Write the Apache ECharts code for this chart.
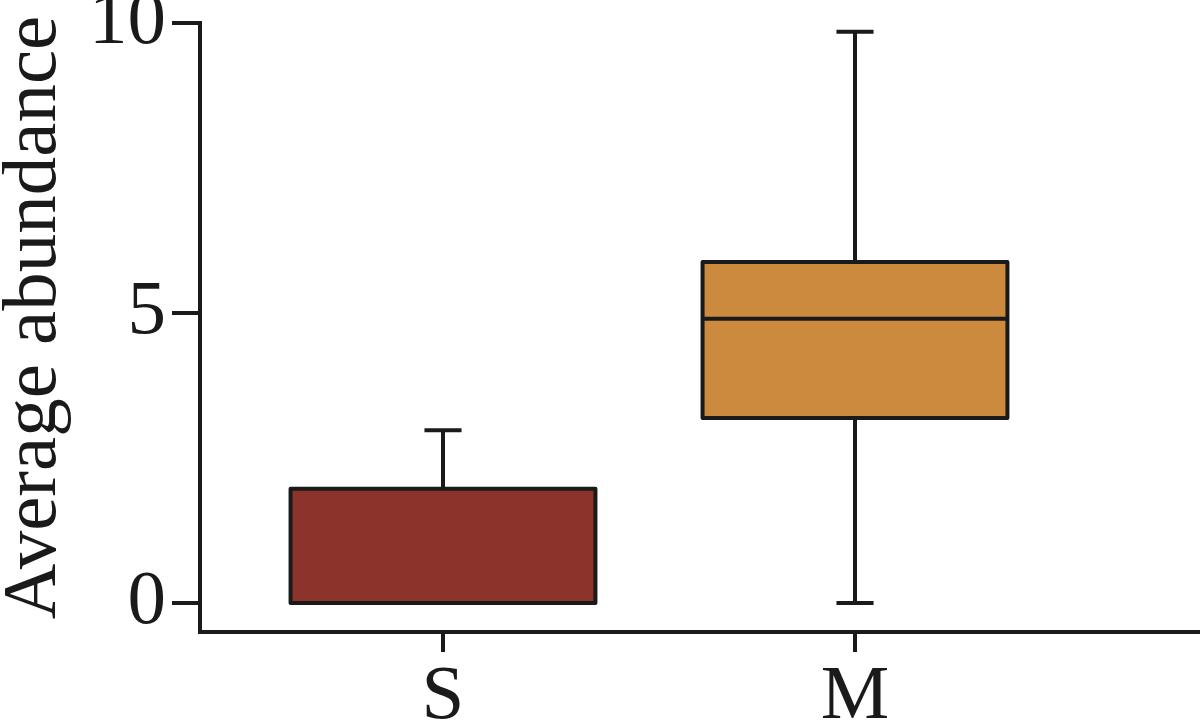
<!DOCTYPE html>
<html>
<head>
<meta charset="utf-8">
<script src="https://cdn.jsdelivr.net/npm/echarts@6/dist/echarts.min.js"></script>
<style>
html,body{margin:0;padding:0;background:#fff;}
#chart{width:1200px;height:724px;}
</style>
</head>
<body>
<div id="chart"></div>
<script>
// ---- data ----
const categories = ['S', 'M'];
const mins    = [0, 0];
const q1s     = [0, 3.19];
const medians = [0, 4.90];
const q3s     = [1.97, 5.88];
const maxs    = [2.98, 9.85];
const yTicks  = [0, 5, 10];
const yTitle  = 'Average abundance';

// ---- styles ----
const boxColors = ['#8C342B', '#CB8A3D'];
const ink = '#1a1a1a';
const FONT = '"Liberation Serif", "Times New Roman", serif';
const FS = 77;

const boxData = categories.map((c, i) => [i, mins[i], q1s[i], medians[i], q3s[i], maxs[i]]);

const chart = echarts.init(document.getElementById('chart'), null, {renderer: 'canvas'});

const option = {
  animation: false,
  backgroundColor: '#ffffff',
  grid: [
    {left: 200, right: 0, top: 23, bottom: 92, containLabel: false, outerBoundsMode: 'none'},
    {left: 237, right: 139, top: 23, bottom: 92, containLabel: false, outerBoundsMode: 'none'}
  ],
  xAxis: [
    {
      gridIndex: 0, type: 'value', min: 0, max: 1,
      axisLine: {show: true, onZero: false, lineStyle: {color: ink, width: 4, cap: 'square'}},
      axisTick: {show: false}, axisLabel: {show: false}, splitLine: {show: false}
    },
    {
      gridIndex: 1, type: 'category', data: categories,
      axisLine: {show: false, onZero: false},
      axisTick: {show: true, alignWithLabel: true, length: 20, lineStyle: {color: ink, width: 4}},
      axisLabel: {show: true, margin: 27, color: ink, fontFamily: FONT, fontSize: FS},
      splitLine: {show: false}
    }
  ],
  yAxis: [
    {
      gridIndex: 0, type: 'value', min: -0.5, max: 10,
      name: yTitle, nameLocation: 'middle', nameGap: 127,
      nameTextStyle: {color: ink, fontFamily: FONT, fontSize: FS, padding: [0, 0, 0, 20]},
      axisLine: {show: true, onZero: false, lineStyle: {color: ink, width: 4, cap: 'square'}},
      axisTick: {show: true, length: 28, customValues: yTicks, lineStyle: {color: ink, width: 4}},
      axisLabel: {show: true, customValues: yTicks, margin: 34, color: ink, fontFamily: FONT, fontSize: FS},
      splitLine: {show: false}
    },
    {
      gridIndex: 1, type: 'value', min: -0.5, max: 10, show: false,
      splitLine: {show: false}
    }
  ],
  series: [
    {
      type: 'custom',
      xAxisIndex: 1, yAxisIndex: 1,
      data: boxData,
      encode: {x: 0, y: [1, 2, 3, 4, 5]},
      renderItem: function (params, api) {
        const xi = api.value(0);
        const pMin = api.coord([xi, api.value(1)]);
        const pQ1 = api.coord([xi, api.value(2)]);
        const pMed = api.coord([xi, api.value(3)]);
        const pQ3 = api.coord([xi, api.value(4)]);
        const pMax = api.coord([xi, api.value(5)]);
        const band = api.size([1, 0])[0];
        const bw = band * 0.74;
        const cw = band * 0.09;
        const cx = pMin[0];
        const ls = {stroke: ink, lineWidth: 4, fill: null};
        return {
          type: 'group',
          children: [
            {type: 'line', shape: {x1: cx, y1: pQ1[1], x2: cx, y2: pMin[1]}, style: ls},
            {type: 'line', shape: {x1: cx, y1: pQ3[1], x2: cx, y2: pMax[1]}, style: ls},
            {type: 'line', shape: {x1: cx - cw / 2, y1: pMin[1], x2: cx + cw / 2, y2: pMin[1]}, style: ls},
            {type: 'line', shape: {x1: cx - cw / 2, y1: pMax[1], x2: cx + cw / 2, y2: pMax[1]}, style: ls},
            {type: 'rect', shape: {x: cx - bw / 2, y: pQ3[1], width: bw, height: pQ1[1] - pQ3[1]},
             style: {fill: boxColors[params.dataIndex], stroke: ink, lineWidth: 4, lineJoin: 'round'}},
            {type: 'line', shape: {x1: cx - bw / 2, y1: pMed[1], x2: cx + bw / 2, y2: pMed[1]}, style: ls}
          ]
        };
      }
    }
  ]
};
chart.setOption(option);
</script>
</body>
</html>
